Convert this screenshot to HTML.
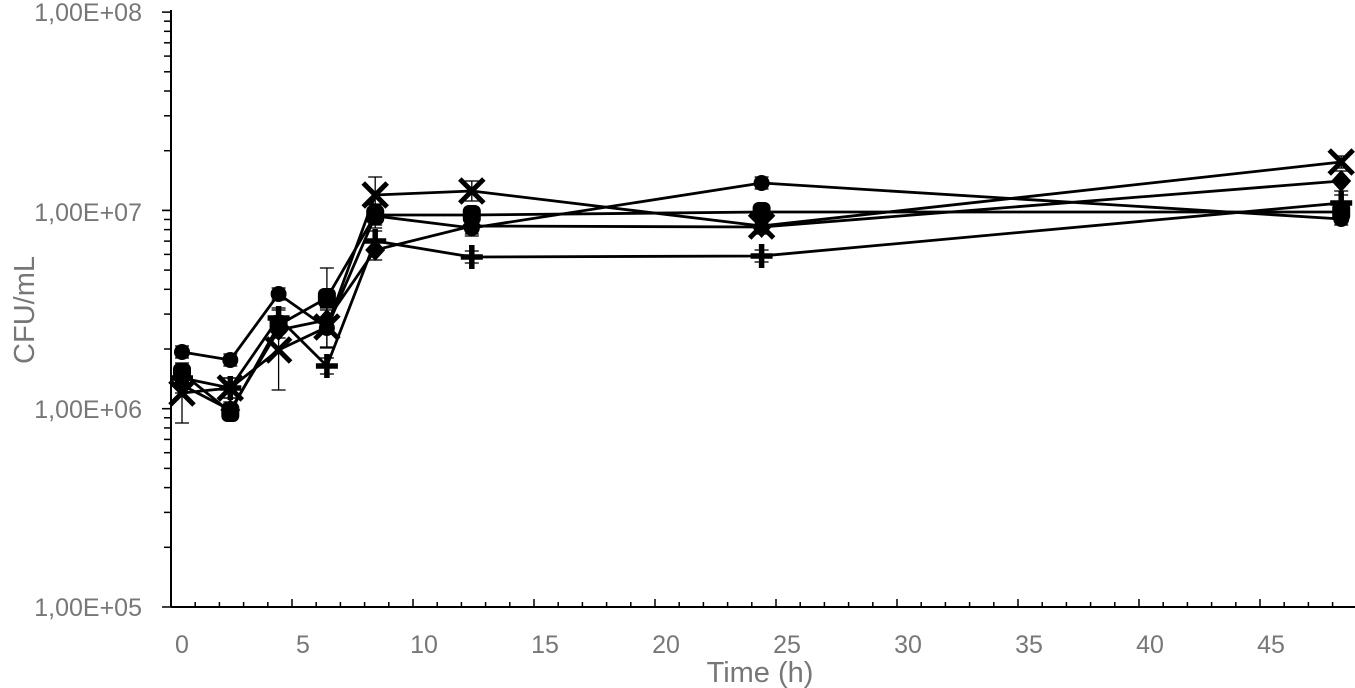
<!DOCTYPE html>
<html><head><meta charset="utf-8"><style>
body{margin:0;background:#fff;}
svg{display:block;font-family:"Liberation Sans",sans-serif;}
</style></head><body>
<svg width="1355" height="688" viewBox="0 0 1355 688">
<g stroke="#000" stroke-width="2" fill="none">
<line x1="171" y1="10" x2="171" y2="607"/>
<line x1="171" y1="607" x2="1355" y2="607"/>
</g>
<g id="ticks" stroke="#000" stroke-width="1.5"></g>
<g fill="#777" font-size="25">
<text x="142" y="21" text-anchor="end">1,00E+08</text>
<text x="142" y="221" text-anchor="end">1,00E+07</text>
<text x="142" y="418" text-anchor="end">1,00E+06</text>
<text x="142" y="616" text-anchor="end">1,00E+05</text>
<text x="182" y="653" text-anchor="middle">0</text>
<text x="303" y="653" text-anchor="middle">5</text>
<text x="424" y="653" text-anchor="middle">10</text>
<text x="545" y="653" text-anchor="middle">15</text>
<text x="666" y="653" text-anchor="middle">20</text>
<text x="787" y="653" text-anchor="middle">25</text>
<text x="908" y="653" text-anchor="middle">30</text>
<text x="1029" y="653" text-anchor="middle">35</text>
<text x="1150" y="653" text-anchor="middle">40</text>
<text x="1271" y="653" text-anchor="middle">45</text>
<text x="760" y="682" text-anchor="middle" font-size="29">Time (h)</text>
<text transform="translate(34,310) rotate(-90)" text-anchor="middle" font-size="29">CFU/mL</text>
</g>
<g id="series" stroke="#000" stroke-width="2.8" fill="none"></g>
<g id="marks"></g>
</svg>
<script>
var ns="http://www.w3.org/2000/svg";
function el(p,t,a){var e=document.createElementNS(ns,t);for(var k in a)e.setAttribute(k,a[k]);p.appendChild(e);return e;}
var tk=document.getElementById('ticks');
for(var k=0;k<=49;k++){var x=171+k*24.2;el(tk,'line',{x1:x,y1:607,x2:x,y2:k%5==0?599:602});}
for(var d=0;d<3;d++){for(var m=1;m<=10;m++){var y=607-d*198.3-Math.log10(m)*198.3;el(tk,'line',{x1:m==1||m==10?162:164,y1:y,x2:171,y2:y});}}
var T=[0,2,4,6,8,12,24,48];
function X(t){return 182+t*24.15;}
var S=[
 {y:[352,360,294,328,216,228,183,219],m:'c',e:[[352,6],[360,6],[294,6],[328,20],[216,12],[228,8],[183,6],[219,6]]},
 {y:[393,388,350,327,195,191,226,162],m:'x',e:[[393,30],[388,10],[350,40],[327,20],[195,18],[191,10],[226,8],[162,6]]},
 {y:[378,388,318,366,241,257,256,203],m:'p',e:[[378,10],[388,10],[318,10],[366,8],[241,10],[257,6],[256,6],[203,8]]},
 {y:[373,412,325,298,215,215,212,212],m:'s',e:[[373,8],[412,8],[325,8],[298,30],[215,10],[215,8],[212,6],[212,6]]},
 {y:[385,410,330,320,250,226,227,181],m:'d',e:[[385,8],[410,8],[330,8],[320,10],[250,10],[226,8],[227,6],[181,10]]}
];
var sg=document.getElementById('series'),mg=document.getElementById('marks');
S.forEach(function(s){
 el(sg,'polyline',{points:T.map(function(t,i){return X(t)+','+s.y[i];}).join(' ')});
 T.forEach(function(t,i){
  var x=X(t),y=s.y[i],e=s.e[i][1];
  el(mg,'line',{x1:x,y1:y-e,x2:x,y2:y+e,stroke:'#000','stroke-width':1.3});
  el(mg,'line',{x1:x-7,y1:y-e,x2:x+7,y2:y-e,stroke:'#000','stroke-width':1.3});
  el(mg,'line',{x1:x-7,y1:y+e,x2:x+7,y2:y+e,stroke:'#000','stroke-width':1.3});
  if(s.m=='c')el(mg,'circle',{cx:x,cy:y,r:8,fill:'#000'});
  if(s.m=='s')el(mg,'rect',{x:x-9,y:y-10,width:18,height:20,rx:6,fill:'#000'});
  if(s.m=='d')el(mg,'polygon',{points:(x)+','+(y-11)+' '+(x+10)+','+y+' '+x+','+(y+11)+' '+(x-10)+','+y,fill:'#000'});
  if(s.m=='x'){el(mg,'path',{d:'M'+(x-12)+' '+(y-12)+'L'+(x+12)+' '+(y+12)+'M'+(x+12)+' '+(y-12)+'L'+(x-12)+' '+(y+12),stroke:'#000','stroke-width':5});}
  if(s.m=='p'){el(mg,'path',{d:'M'+(x-11)+' '+y+'H'+(x+11)+'M'+x+' '+(y-12)+'V'+(y+12),stroke:'#000','stroke-width':5.5});}
 });
});
</script>
</body></html>
